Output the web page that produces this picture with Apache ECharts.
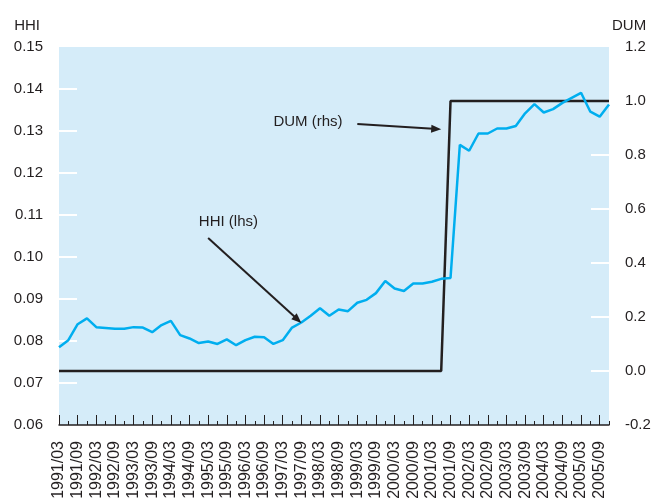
<!DOCTYPE html>
<html>
<head>
<meta charset="utf-8">
<script src="https://cdn.jsdelivr.net/npm/echarts@6/dist/echarts.min.js"></script>
<style>
html,body{margin:0;padding:0;background:#fff;}
#main{width:651px;height:500px;}
</style>
</head>
<body>
<div id="main"></div>
<script>
const quarters = [
'1991/03','1991/06','1991/09','1991/12','1992/03','1992/06','1992/09','1992/12',
'1993/03','1993/06','1993/09','1993/12','1994/03','1994/06','1994/09','1994/12',
'1995/03','1995/06','1995/09','1995/12','1996/03','1996/06','1996/09','1996/12',
'1997/03','1997/06','1997/09','1997/12','1998/03','1998/06','1998/09','1998/12',
'1999/03','1999/06','1999/09','1999/12','2000/03','2000/06','2000/09','2000/12',
'2001/03','2001/06','2001/09','2001/12','2002/03','2002/06','2002/09','2002/12',
'2003/03','2003/06','2003/09','2003/12','2004/03','2004/06','2004/09','2004/12',
'2005/03','2005/06','2005/09','2005/12'];

const hhi = [
0.0785,0.0802,0.0840,0.0854,0.0833,0.0831,0.0829,0.0829,
0.0833,0.0832,0.0821,0.0838,0.0848,0.0814,0.0806,0.0795,
0.0799,0.0793,0.0804,0.0790,0.0802,0.0810,0.0809,0.0793,
0.0802,0.0832,0.0844,0.0860,0.0878,0.0860,0.0875,0.0871,
0.0891,0.0898,0.0914,0.0943,0.0925,0.0919,0.0937,0.0937,
0.0941,0.0948,0.0950,0.1267,0.1253,0.1294,0.1294,0.1306,
0.1306,0.1312,0.1342,0.1364,0.1344,0.1352,0.1367,0.1379,
0.1391,0.1346,0.1334,0.1363];

const dum = [
0,0,0,0,0,0,0,0,0,0,0,0,0,0,0,0,0,0,0,0,0,
0,0,0,0,0,0,0,0,0,0,0,0,0,0,0,0,0,0,0,0,0,
1,1,1,1,1,1,1,1,1,1,1,1,1,1,1,1,1,1];

const leftAxis = {name:'HHI', min:0.06, max:0.15, interval:0.01, decimals:2,
  ticks:[0.07,0.08,0.09,0.10,0.11,0.12,0.13,0.14]};
const rightAxis = {name:'DUM', min:-0.2, max:1.2, interval:0.2, decimals:1,
  ticks:[0.0,0.2,0.4,0.6,0.8,1.0]};

// annotations in data space: [category index, value]
const annHHI = {text:'HHI (lhs)', axis:0, textAt:[14.5,0.1083], from:[16.4,0.1045], to:[26.0,0.0843]};
const annDUM = {text:'DUM (rhs)', axis:1, textAt:[23.3,0.922], from:[32.0,0.915], to:[40.9,0.895]};

const FONT = 'Liberation Sans, Arial, Helvetica, sans-serif';
const TXT = '#231f20';
const BLUE = '#00aeef';
const BG = '#d5ecf9';

const chart = echarts.init(document.getElementById('main'), null, {renderer:'canvas'});

function yAxisOpt(a, pos){
  return {
    type:'value', position:pos, min:a.min, max:a.max, interval:a.interval, z:1,
    name:a.name, nameLocation:'end', nameGap:14,
    nameTextStyle: pos==='left'
      ? {color:TXT, fontFamily:FONT, fontSize:15, align:'right', padding:[0,19,0,0]}
      : {color:TXT, fontFamily:FONT, fontSize:15, align:'left', padding:[0,0,0,3]},
    axisLine:{show:false},
    axisTick:{show:true, inside:true, length:18, customValues:a.ticks,
      lineStyle:{color:'#ffffff', width:2}},
    splitLine:{show:false},
    axisLabel:{color:TXT, fontFamily:FONT, fontSize:15, margin:16,
      formatter:v=>v.toFixed(a.decimals)}
  };
}

const option = {
  animation:false,
  backgroundColor:'#ffffff',
  grid:{left:59, right:42, top:47, bottom:75, show:true, backgroundColor:BG, borderWidth:0,
        containLabel:false, outerBoundsMode:'none'},
  xAxis:[
    {type:'category', data:quarters, boundaryGap:false, position:'bottom', z:5,
     axisLine:{show:true, onZero:false, lineStyle:{color:TXT, width:1.5}},
     axisTick:{show:true, inside:true, length:10, interval:1, lineStyle:{color:TXT, width:1}},
     axisLabel:{interval:1, rotate:90, margin:16, color:TXT, fontFamily:FONT, fontSize:16},
     splitLine:{show:false}},
    {type:'category', data:quarters, boundaryGap:false, position:'bottom', z:5,
     axisLine:{show:false, onZero:false},
     axisTick:{show:true, inside:true, length:4, interval:0, lineStyle:{color:TXT, width:1}},
     axisLabel:{show:false}, splitLine:{show:false}}
  ],
  yAxis:[yAxisOpt(leftAxis,'left'), yAxisOpt(rightAxis,'right')],
  series:[
    {name:'DUM', type:'line', data:dum, xAxisIndex:0, yAxisIndex:1, showSymbol:false,
     lineStyle:{color:TXT, width:2.5}, z:2},
    {name:'HHI', type:'line', data:hhi, xAxisIndex:0, yAxisIndex:0, showSymbol:false,
     lineStyle:{color:BLUE, width:2.5}, z:3}
  ]
};
chart.setOption(option);

function toPx(ax, p){
  const x = chart.convertToPixel({xAxisIndex:0}, p[0]);
  const y = chart.convertToPixel({yAxisIndex:ax}, p[1]);
  return [x,y];
}
function arrowGraphics(a){
  const t = toPx(a.axis, a.textAt), f = toPx(a.axis, a.from), e = toPx(a.axis, a.to);
  const dx = e[0]-f[0], dy = e[1]-f[1], L = Math.sqrt(dx*dx+dy*dy);
  const ux = dx/L, uy = dy/L, hl = 10, hw = 4;
  const bx = e[0]-ux*hl, by = e[1]-uy*hl;
  return [
    {type:'text', x:t[0], y:t[1], z:10,
     style:{text:a.text, fill:TXT, font:'15px '+FONT, align:'left', verticalAlign:'middle'}},
    {type:'line', z:10, shape:{x1:f[0], y1:f[1], x2:bx+ux*2, y2:by+uy*2},
     style:{stroke:TXT, lineWidth:2}},
    {type:'polygon', z:10, shape:{points:[[e[0],e[1]],[bx-uy*hw,by+ux*hw],[bx+uy*hw,by-ux*hw]]},
     style:{fill:TXT}}
  ];
}
chart.setOption({graphic:[].concat(arrowGraphics(annHHI), arrowGraphics(annDUM))});
</script>
</body>
</html>
